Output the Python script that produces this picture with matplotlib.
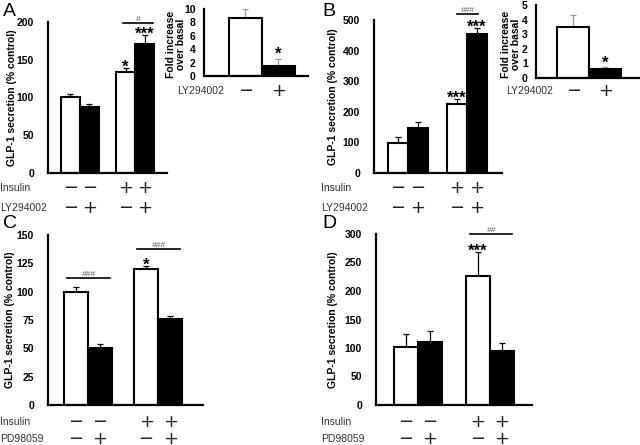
import numpy as np
import matplotlib
matplotlib.use('Agg')
import matplotlib.pyplot as plt
import matplotlib.transforms as mtransforms

plt.rcParams['font.family'] = ['Liberation Sans', 'DejaVu Sans']

W, H = 640, 445

# --- data ---
insulin_signs = ['\u2212', '\u2212', '+', '+']
inhib_signs = ['\u2212', '+', '\u2212', '+']
fill = ['white', 'black', 'white', 'black']

a_vals = [100, 87, 134, 171]
a_err = [5, 4.5, 4.5, 12]
a_stars = ['', '', '*', '***']

b_vals = [99, 148, 224, 453]
b_err = [19, 20, 17, 22]
b_stars = ['', '', '***', '***']

c_vals = [100, 50, 120, 75.5]
c_err = [4.5, 4, 2.5, 3]
c_stars = ['', '', '*', '']

d_vals = [101, 110, 226, 95]
d_err = [23, 19, 43, 14]
d_stars = ['', '', '***', '']

a_fold = [8.6, 1.5]
a_fold_err = [1.4, 1.0]
a_fold_stars = ['', '*']

b_fold = [3.5, 0.62]
b_fold_err = [0.8, 0.1]
b_fold_stars = ['', '*']

fig = plt.figure(figsize=(6.4, 4.45), dpi=100)


def px_axes(left, top, right, bottom):
    return fig.add_axes([left / W, 1 - bottom / H, (right - left) / W, (bottom - top) / H])


def style(ax, ylim, ticks):
    ax.set_ylim(*ylim)
    ax.set_yticks(ticks)
    ax.set_xticks([])
    for s in ['top', 'right']:
        ax.spines[s].set_visible(False)
    for s in ['left', 'bottom']:
        ax.spines[s].set_linewidth(1.6)
    ax.tick_params(axis='y', length=0, pad=10, labelsize=7.5)
    for t in ax.get_yticklabels():
        t.set_fontweight('bold')


def bars(ax, x, vals, err, stars, ecol, star_pad):
    ax.bar(x, vals, width=1, color=fill[:len(vals)], edgecolor='black', linewidth=1.5, zorder=2)
    ax.errorbar(x, vals, yerr=[np.zeros(len(vals)), err], fmt='none', ecolor=ecol,
                elinewidth=0.9, capsize=2, capthick=0.9, zorder=1)
    for xi, v, e, s in zip(x, vals, err, stars):
        if s:
            ax.annotate(s, (xi, v + e), xytext=(0, star_pad), textcoords='offset points',
                        ha='center', va='bottom', fontsize=12, fontweight='bold',
                        annotation_clip=False)


def sign_row(ax, x, signs, ypx):
    tr = mtransforms.blended_transform_factory(ax.transData, fig.transFigure)
    for xi, s in zip(x, signs):
        ax.text(xi, 1 - ypx / H, s, transform=tr, ha='center', va='center',
                fontsize=13, family='DejaVu Sans', color='#222222', clip_on=False)


def row_label(xpx, ypx, txt):
    fig.text(xpx / W, 1 - ypx / H, txt, ha='left', va='center', fontsize=7.5, color='#333333')


def sig_line(ax, x0, x1, y, txt):
    ax.plot([x0, x1], [y, y], color='black', lw=1.2, clip_on=False)
    ax.text((x0 + x1) / 2, y, txt, ha='center', va='bottom', fontsize=6, color='#555555',
            style='italic', clip_on=False)


def main_panel(box, vals, err, stars, gap, xlim, ylim, ticks, rows, inhib, label_x, ylab_x):
    ax = px_axes(*box)
    x = np.array([0, 1, 1 + gap, 2 + gap])
    bars(ax, x, vals, err, stars, 'black', -5)
    ax.set_xlim(*xlim)
    style(ax, ylim, ticks)
    sign_row(ax, x, insulin_signs, rows[0])
    sign_row(ax, x, inhib_signs, rows[1])
    row_label(label_x, rows[0], 'Insulin')
    row_label(label_x, rows[1], inhib)
    fig.text(ylab_x / W, 1 - (box[1] + box[3]) / 2 / H, 'GLP-1 secretion (% control)',
             rotation=90, ha='center', va='center', fontsize=7.5, fontweight='bold')
    return ax, x


def fold_panel(box, vals, err, stars, xlim, ylim, ticks, row, label_x, ylab_x):
    ax = px_axes(*box)
    x = np.array([0, 1])
    bars(ax, x, vals, err, stars, '#999999', -2)
    ax.set_xlim(*xlim)
    style(ax, ylim, ticks)
    ax.tick_params(axis='y', pad=6)
    sign_row(ax, x, ['\u2212', '+'], row)
    row_label(label_x, row, 'LY294002')
    fig.text(ylab_x / W, 1 - 44 / H, 'Fold increase\nover basal', rotation=90,
             ha='center', va='center', fontsize=7.5, fontweight='bold', linespacing=1.0)
    return ax


# A
axA, xA = main_panel((48, 21.7, 167, 173), a_vals, a_err, a_stars, 1.9, (-1.18, 5.08),
                     (0, 200), [0, 50, 100, 150, 200], (188, 208), 'LY294002', 0, 12)
sig_line(axA, xA[2] - 0.15, xA[3] + 0.45, 198, '#')
fold_panel((204, 9, 308, 76), a_fold, a_fold_err, a_fold_stars, (-1.26, 1.9), (0, 10),
           [0, 2, 4, 6, 8, 10], 91, 177, 176)

# B
axB, xB = main_panel((374, 20, 502, 173), b_vals, b_err, b_stars, 1.95, (-1.2, 5.2),
                     (0, 500), [0, 100, 200, 300, 400, 500], (188, 208), 'LY294002', 321, 333)
sig_line(axB, xB[2], xB[3] + 0.05, 520, '###')
fold_panel((536, 5, 640, 78), b_fold, b_fold_err, b_fold_stars, (-1.17, 2.08), (0, 5),
           [0, 1, 2, 3, 4, 5], 91, 506, 511)

# C
axC, xC = main_panel((48, 235, 203, 405), c_vals, c_err, c_stars, 1.92, (-1.17, 5.29),
                     (0, 150), [0, 25, 50, 75, 100, 125, 150], (422, 439), 'PD98059', 0, 10)
sig_line(axC, xC[0] - 0.375, xC[1] + 0.42, 112, '###')
sig_line(axC, xC[2] - 0.38, xC[3] + 0.41, 137.6, '###')

# D
axD, xD = main_panel((376, 234, 532, 405), d_vals, d_err, d_stars, 2.0, (-1.25, 5.25),
                     (0, 300), [0, 50, 100, 150, 200, 250, 300], (422, 439), 'PD98059', 321, 333)
sig_line(axD, xD[2] - 0.33, xD[3] + 0.42, 300, '##')

for lab, xp, yp in [('A', 3, 3), ('B', 322, 3), ('C', 3, 215), ('D', 322, 215)]:
    fig.text(xp / W, 1 - yp / H, lab, ha='left', va='top', fontsize=14)

fig.savefig('out.png', dpi=100)
